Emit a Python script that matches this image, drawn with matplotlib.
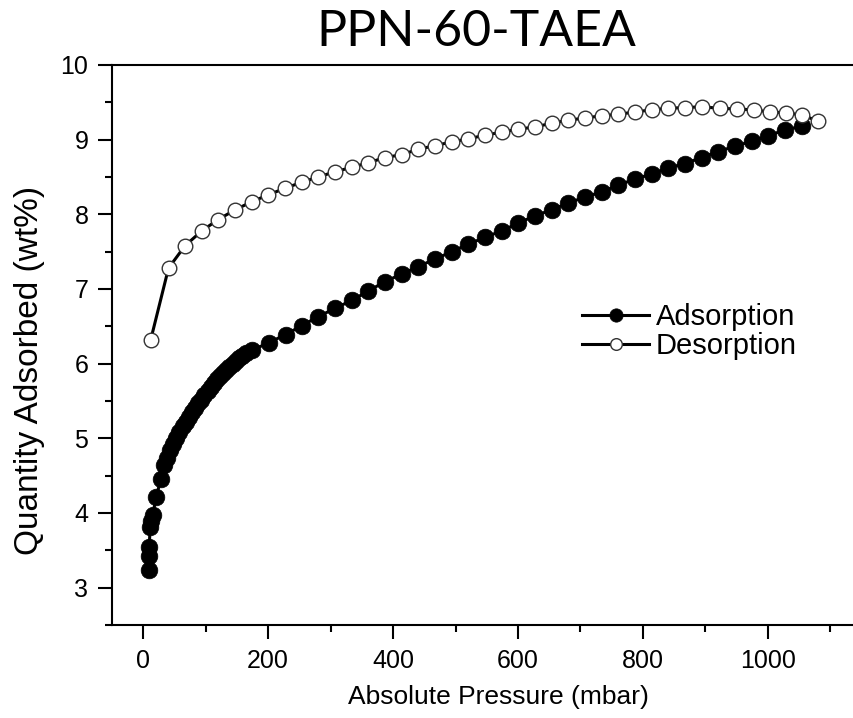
import matplotlib
matplotlib.use("Agg")
import matplotlib.pyplot as plt
from matplotlib.ticker import MultipleLocator

# adsorption branch (mbar, wt%)
ads_p = [8.5, 8.5, 9.6, 11, 12, 15, 21, 28, 34, 38, 43, 48, 53, 58, 63, 68, 73, 78,
         83, 88, 93, 98, 103, 108, 113, 118, 123, 128, 133, 138, 143, 148, 153, 158,
         164, 174, 201, 228, 254, 280, 307, 334, 360, 387, 414, 440, 467, 494, 520,
         547, 574, 600, 627, 654, 680, 707, 734, 760, 787, 814, 840, 867, 894, 920,
         947, 974, 1000, 1027, 1054]
ads_q = [3.24, 3.43, 3.54, 3.81, 3.89, 3.97, 4.22, 4.45, 4.64, 4.74, 4.85, 4.93, 5.01,
         5.09, 5.16, 5.22, 5.29, 5.35, 5.41, 5.47, 5.52, 5.58, 5.63, 5.69, 5.74, 5.79,
         5.83, 5.87, 5.91, 5.95, 5.99, 6.03, 6.07, 6.10, 6.14, 6.18, 6.28, 6.39, 6.51,
         6.63, 6.74, 6.85, 6.97, 7.10, 7.20, 7.30, 7.40, 7.50, 7.60, 7.69, 7.78, 7.88,
         7.98, 8.06, 8.15, 8.23, 8.30, 8.39, 8.47, 8.54, 8.62, 8.68, 8.76, 8.84, 8.91,
         8.98, 9.05, 9.13, 9.18]

# desorption branch
des_p = [12, 40.5, 67, 94, 120, 147, 174, 200, 227, 254, 280, 307, 334, 360, 387, 414,
         440, 467, 494, 520, 547, 574, 600, 627, 654, 680, 707, 734, 760, 787, 814, 840,
         867, 894, 924, 951, 978, 1003, 1029, 1055, 1080]
des_q = [6.32, 7.28, 7.58, 7.78, 7.93, 8.06, 8.17, 8.26, 8.35, 8.43, 8.50, 8.57, 8.63,
         8.69, 8.76, 8.80, 8.87, 8.92, 8.97, 9.01, 9.06, 9.10, 9.14, 9.17, 9.22, 9.26,
         9.29, 9.32, 9.34, 9.37, 9.40, 9.42, 9.43, 9.44, 9.42, 9.41, 9.40, 9.37, 9.36,
         9.33, 9.25]

plt.rcParams['font.family'] = ['Liberation Sans', 'DejaVu Sans']

W, H = 854, 718
fig = plt.figure(figsize=(W / 100, H / 100), dpi=100)
ax = fig.add_axes([112 / W, 1 - 625 / H, (W - 112) / W, 560 / H])

ax.plot(ads_p, ads_q, '-o', color='black', lw=2.2, ms=12, mfc='black',
        mec='black', mew=0.5, label='Adsorption')
ax.plot(des_p, des_q, '-o', color='black', lw=2.2, ms=10.5, mfc='white',
        mec='#333333', mew=1.0, label='Desorption')

ax.set_xlim(-50, 1138)
ax.set_ylim(2.5, 10)
ax.xaxis.set_major_locator(MultipleLocator(200))
ax.xaxis.set_minor_locator(MultipleLocator(100))
ax.yaxis.set_major_locator(MultipleLocator(1))
ax.yaxis.set_minor_locator(MultipleLocator(0.5))
ax.tick_params(which='major', direction='out', length=10, width=1.5, labelsize=18, pad=7)
ax.tick_params(which='minor', direction='out', length=5, width=1.5)
ax.spines['right'].set_visible(False)
for s in ['left', 'bottom', 'top']:
    ax.spines[s].set_linewidth(1.5)

fig.text(30 / W, 1 - 370 / H, 'Quantity Adsorbed (wt%)', rotation=90,
         ha='center', va='center', fontsize=24)
fig.text(498 / W, 1 - 697 / H, 'Absolute Pressure (mbar)', ha='center',
         va='center', fontsize=19)
fig.text(476 / W, 1 - 32 / H, 'PPN-60-TAEA', ha='center', va='center',
         fontsize=36, family=['Lato', 'DejaVu Sans'])

ax.legend(loc='upper left', bbox_to_anchor=(582 / W, 1 - 303 / H),
          bbox_transform=fig.transFigure, frameon=False, fontsize=21,
          handlelength=2.3, handletextpad=0.23, labelspacing=0.05,
          borderpad=0, borderaxespad=0, markerscale=0.8)

fig.savefig('out.png', dpi=100)
